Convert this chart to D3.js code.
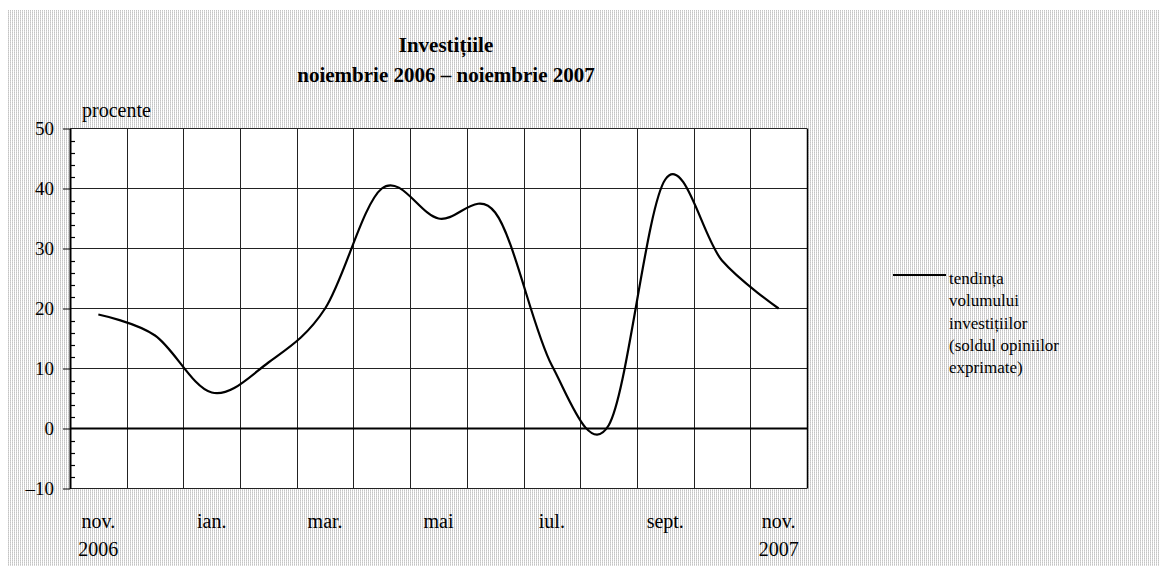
<html>
<head>
<meta charset="utf-8">
<script src="https://d3js.org/d3.v7.min.js"></script>
<style>
  body { margin: 0; background: #fff; }
  text { font-family: "Liberation Serif", "Times New Roman", serif; fill: #000; }
</style>
</head>
<body>
<div id="chart"></div>
<script>
// data
var months = ['nov. 2006', 'dec.', 'ian.', 'feb.', 'mar.', 'apr.', 'mai', 'iun.', 'iul.', 'aug.', 'sept.', 'oct.', 'nov. 2007'];
var values = [19, 15.5, 6, 11, 20, 40, 35, 36, 10.5, 0.5, 41.5, 28, 20];
var monthLabels = ['nov.', '', 'ian.', '', 'mar.', '', 'mai', '', 'iul.', '', 'sept.', '', 'nov.'];
var yearLabels = ['2006', '', '', '', '', '', '', '', '', '', '', '', '2007'];
var yTicks = [-10, 0, 10, 20, 30, 40, 50];
var yMinor = d3.range(-10, 50, 2);
var seriesName = ['tendința', 'volumului', 'investițiilor', '(soldul opiniilor', 'exprimate)'];

var W = 1168, H = 576;
var plotLeft = 70, plotRight = 807, plotTop = 128.5, plotBottom = 488.5;

var svg = d3.select('#chart').append('svg')
    .attr('width', W).attr('height', H);

// striped grey background
var defs = svg.append('defs');
var pat = defs.append('pattern').attr('id', 'stripes')
    .attr('width', 2).attr('height', 2).attr('patternUnits', 'userSpaceOnUse');
pat.append('rect').attr('width', 2).attr('height', 2).attr('fill', '#fff');
pat.append('rect').attr('width', 1).attr('height', 1).attr('fill', '#c4c4c4');
pat.append('rect').attr('y', 1).attr('width', 1).attr('height', 1).attr('fill', '#d6d6d6');

svg.append('rect').attr('x', 8).attr('y', 10).attr('width', 1152).attr('height', 556)
    .attr('fill', 'url(#stripes)');

var x = d3.scaleBand().domain(months).range([plotLeft, plotRight]);
var y = d3.scaleLinear().domain([-10, 50]).range([plotBottom, plotTop]);

// plot area
svg.append('rect').attr('x', plotLeft).attr('y', plotTop)
    .attr('width', plotRight - plotLeft).attr('height', plotBottom - plotTop)
    .attr('fill', '#fff');

// vertical grid at category boundaries
svg.append('g').selectAll('line')
    .data(months.slice(1))
    .join('line')
    .attr('x1', function(d) { return Math.round(x(d)) + 0.5; })
    .attr('x2', function(d) { return Math.round(x(d)) + 0.5; })
    .attr('y1', plotTop).attr('y2', plotBottom)
    .attr('stroke', '#222').attr('stroke-width', 1);

// horizontal grid
svg.append('g').selectAll('line')
    .data(yTicks.filter(function(d) { return d != 0; }))
    .join('line')
    .attr('x1', plotLeft).attr('x2', plotRight)
    .attr('y1', function(d) { return y(d); })
    .attr('y2', function(d) { return y(d); })
    .attr('stroke', '#222').attr('stroke-width', 1);

// right border
svg.append('line').attr('x1', plotRight + 0.5).attr('x2', plotRight + 0.5)
    .attr('y1', plotTop).attr('y2', plotBottom)
    .attr('stroke', '#000').attr('stroke-width', 1.5);

// zero line
svg.append('line').attr('x1', plotLeft).attr('x2', plotRight)
    .attr('y1', y(0)).attr('y2', y(0))
    .attr('stroke', '#000').attr('stroke-width', 2.2);

// y axis with outer major ticks
var yAxis = svg.append('g')
    .attr('transform', 'translate(' + plotLeft + ',0)')
    .call(d3.axisLeft(y).tickValues(yTicks).tickSize(7).tickSizeOuter(0)
        .tickFormat(function(d) { return d < 0 ? '–' + Math.abs(d) : d; }));
yAxis.select('.domain').attr('stroke', '#000').attr('stroke-width', 2);
yAxis.selectAll('.tick line').attr('stroke', '#000');
yAxis.selectAll('.tick text')
    .attr('x', -16)
    .attr('dy', '0.33em')
    .style('font-family', '"Liberation Serif", serif')
    .style('font-size', '19px')
    .attr('fill', '#000');

// minor inside ticks
svg.append('g').selectAll('line')
    .data(yMinor.filter(function(d) { return d % 10 != 0; }))
    .join('line')
    .attr('x1', plotLeft).attr('x2', plotLeft + 5)
    .attr('y1', function(d) { return Math.round(y(d)) + 0.5; })
    .attr('y2', function(d) { return Math.round(y(d)) + 0.5; })
    .attr('stroke', '#000').attr('stroke-width', 1.2);

// x labels
var xl = svg.append('g');
xl.selectAll('text.m')
    .data(months)
    .join('text')
    .attr('class', 'm')
    .attr('x', function(d) { return x(d) + x.bandwidth() / 2; })
    .attr('y', 528)
    .attr('text-anchor', 'middle')
    .style('font-size', '20px')
    .text(function(d, i) { return monthLabels[i]; });
xl.selectAll('text.yr')
    .data(months)
    .join('text')
    .attr('class', 'yr')
    .attr('x', function(d) { return x(d) + x.bandwidth() / 2; })
    .attr('y', 556)
    .attr('text-anchor', 'middle')
    .style('font-size', '20px')
    .text(function(d, i) { return yearLabels[i]; });

// series
var line = d3.line()
    .x(function(d, i) { return x(months[i]) + x.bandwidth() / 2; })
    .y(function(d) { return y(d); })
    .curve(d3.curveCatmullRom.alpha(0));

svg.append('path')
    .datum(values)
    .attr('d', line)
    .attr('fill', 'none')
    .attr('stroke', '#000')
    .attr('stroke-width', 2.2);

// titles
svg.append('text').attr('x', 446).attr('y', 52).attr('text-anchor', 'middle')
    .style('font-size', '21px').style('font-weight', 'bold').text('Investițiile');
svg.append('text').attr('x', 446).attr('y', 82).attr('text-anchor', 'middle')
    .style('font-size', '21px').style('font-weight', 'bold').text('noiembrie 2006 – noiembrie 2007');
svg.append('text').attr('x', 82).attr('y', 117)
    .style('font-size', '20px').text('procente');

// legend
svg.append('line').attr('x1', 893).attr('x2', 946).attr('y1', 275).attr('y2', 275)
    .attr('stroke', '#000').attr('stroke-width', 2.2);
svg.append('g').selectAll('text')
    .data(seriesName)
    .join('text')
    .attr('x', 949)
    .attr('y', function(d, i) { return 284 + i * 22.3; })
    .style('font-size', '17px')
    .text(function(d) { return d; });
</script>
</body>
</html>
